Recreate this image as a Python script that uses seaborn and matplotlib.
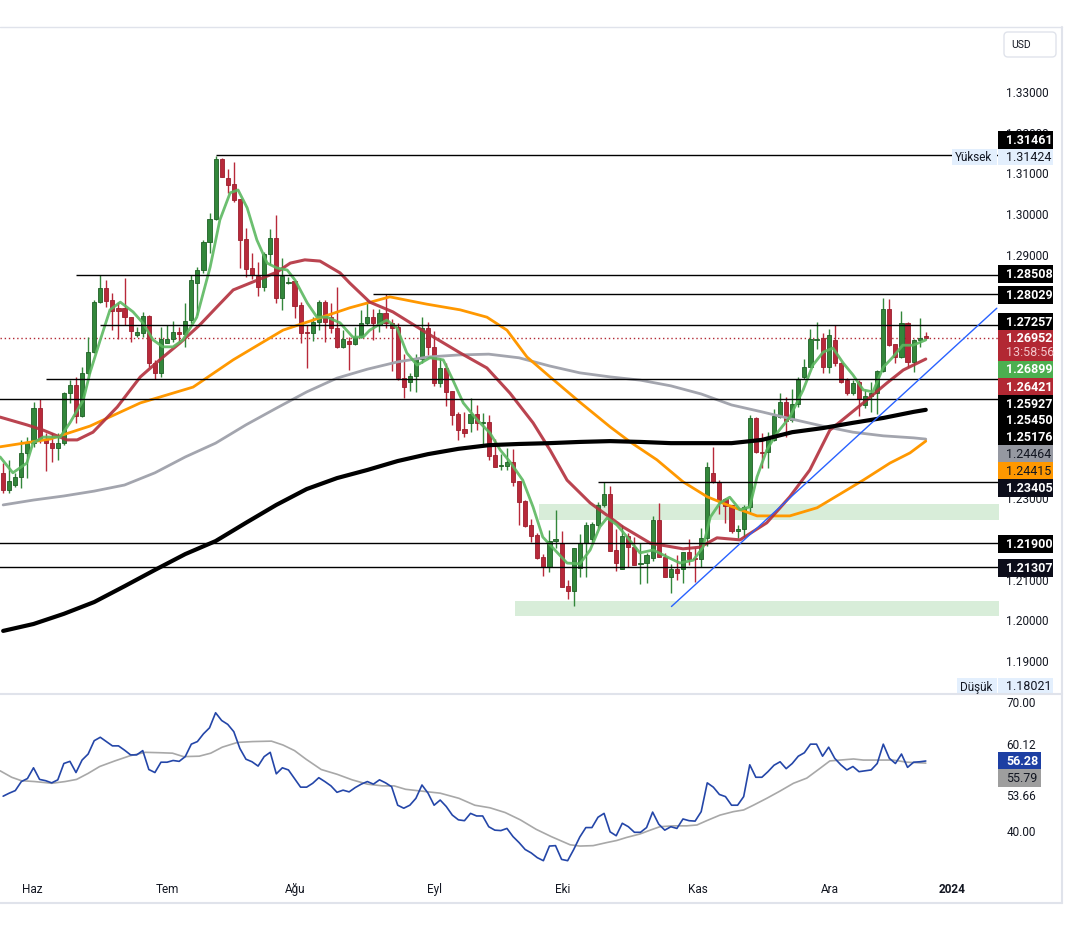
import numpy as np
import pandas as pd
import seaborn as sns
import matplotlib.pyplot as plt
from matplotlib.patches import Rectangle, FancyBboxPatch

# --- GBP/USD daily candles, bar -5 .. 147 (late May -> 21 Dec 2023) ---
opens = [1.2362, 1.2321, 1.2333, 1.2353, 1.2412, 1.2436, 1.2522, 1.2446, 1.2436, 1.2424,
         1.2436, 1.2559, 1.2579, 1.2503, 1.2609, 1.2660, 1.2783, 1.2818, 1.2788, 1.2769,
         1.2769, 1.2746, 1.2702, 1.2707, 1.2749, 1.2633, 1.2609, 1.2682, 1.2692, 1.2710,
         1.2705, 1.2739, 1.2830, 1.2862, 1.2931, 1.2988, 1.3135, 1.3088, 1.3074, 1.3037,
         1.2938, 1.2867, 1.2847, 1.2820, 1.2901, 1.2941, 1.2793, 1.2830, 1.2835, 1.2776,
         1.2710, 1.2707, 1.2734, 1.2783, 1.2746, 1.2719, 1.2673, 1.2687, 1.2680, 1.2697,
         1.2732, 1.2746, 1.2727, 1.2756, 1.2732, 1.2722, 1.2596, 1.2586, 1.2601, 1.2643,
         1.2719, 1.2673, 1.2584, 1.2621, 1.2564, 1.2508, 1.2471, 1.2485, 1.2508, 1.2485,
         1.2488, 1.2407, 1.2380, 1.2380, 1.2390, 1.2343, 1.2294, 1.2235, 1.2210, 1.2156,
         1.2131, 1.2195, 1.2190, 1.2084, 1.2072, 1.2129, 1.2190, 1.2200, 1.2235, 1.2284,
         1.2311, 1.2173, 1.2126, 1.2207, 1.2180, 1.2139, 1.2141, 1.2153, 1.2247, 1.2156,
         1.2107, 1.2126, 1.2126, 1.2168, 1.2153, 1.2151, 1.2203, 1.2362, 1.2340, 1.2299,
         1.2284, 1.2220, 1.2225, 1.2279, 1.2498, 1.2414, 1.2414, 1.2444, 1.2500, 1.2537,
         1.2493, 1.2532, 1.2599, 1.2623, 1.2690, 1.2695, 1.2623, 1.2690, 1.2633, 1.2591,
         1.2559, 1.2586, 1.2530, 1.2552, 1.2559, 1.2613, 1.2766, 1.2680, 1.2648, 1.2732,
         1.2636, 1.2690, 1.2699]
highs = [1.2387, 1.2394, 1.2362, 1.2444, 1.2451, 1.2537, 1.2545, 1.2461, 1.2461, 1.2461,
         1.2562, 1.2591, 1.2599, 1.2623, 1.2697, 1.2788, 1.2850, 1.2837, 1.2805, 1.2783,
         1.2842, 1.2746, 1.2722, 1.2759, 1.2751, 1.2641, 1.2722, 1.2727, 1.2737, 1.2722,
         1.2781, 1.2850, 1.2870, 1.2936, 1.3003, 1.31424, 1.3138, 1.3111, 1.3128, 1.3037,
         1.2965, 1.2904, 1.2882, 1.2906, 1.2963, 1.2997, 1.2892, 1.2845, 1.2837, 1.2783,
         1.2727, 1.2746, 1.2788, 1.2788, 1.2781, 1.2820, 1.2714, 1.2697, 1.2722, 1.2764,
         1.2788, 1.2766, 1.2766, 1.2803, 1.2741, 1.2732, 1.2655, 1.2609, 1.2655, 1.2746,
         1.2734, 1.2712, 1.2646, 1.2633, 1.2564, 1.2513, 1.2513, 1.2547, 1.2530, 1.2510,
         1.2505, 1.2446, 1.2409, 1.2424, 1.2421, 1.2343, 1.2296, 1.2249, 1.2215, 1.2163,
         1.2222, 1.2271, 1.2220, 1.2099, 1.2178, 1.2212, 1.2242, 1.2242, 1.2291, 1.2340,
         1.2330, 1.2225, 1.2235, 1.2215, 1.2205, 1.2190, 1.2166, 1.2257, 1.2289, 1.2166,
         1.2139, 1.2161, 1.2168, 1.2200, 1.2178, 1.2227, 1.2390, 1.2426, 1.2345, 1.2301,
         1.2284, 1.2235, 1.2284, 1.2505, 1.2500, 1.2461, 1.2463, 1.2520, 1.2559, 1.2549,
         1.2569, 1.2599, 1.2643, 1.2717, 1.2734, 1.2707, 1.2717, 1.2727, 1.2636, 1.2596,
         1.2591, 1.2591, 1.2567, 1.2586, 1.2616, 1.2793, 1.2791, 1.2680, 1.2761, 1.2734,
         1.2692, 1.2744, 1.2710]
lows = [1.2313, 1.2313, 1.2329, 1.2326, 1.2350, 1.2426, 1.2436, 1.2367, 1.2390, 1.2394,
        1.2431, 1.2535, 1.2485, 1.2500, 1.2604, 1.2658, 1.2781, 1.2771, 1.2714, 1.2692,
        1.2727, 1.2685, 1.2697, 1.2697, 1.2623, 1.2594, 1.2599, 1.2682, 1.2685, 1.2685,
        1.2673, 1.2732, 1.2751, 1.2855, 1.2904, 1.2985, 1.3091, 1.3052, 1.3029, 1.2867,
        1.2845, 1.2840, 1.2798, 1.2810, 1.2874, 1.2781, 1.2764, 1.2828, 1.2744, 1.2682,
        1.2621, 1.2687, 1.2714, 1.2685, 1.2707, 1.2670, 1.2670, 1.2616, 1.2677, 1.2695,
        1.2727, 1.2690, 1.2710, 1.2719, 1.2614, 1.2591, 1.2547, 1.2564, 1.2562, 1.2633,
        1.2653, 1.2577, 1.2574, 1.2527, 1.2481, 1.2444, 1.2451, 1.2463, 1.2468, 1.2431,
        1.2394, 1.2377, 1.2370, 1.2370, 1.2331, 1.2235, 1.2230, 1.2193, 1.2151, 1.2109,
        1.2119, 1.2178, 1.2082, 1.2052, 1.2035, 1.2107, 1.2107, 1.2193, 1.2227, 1.2279,
        1.2171, 1.2121, 1.2126, 1.2131, 1.2136, 1.2089, 1.2092, 1.2146, 1.2156, 1.2107,
        1.2067, 1.2099, 1.2092, 1.2136, 1.2094, 1.2131, 1.2183, 1.2338, 1.2262, 1.2240,
        1.2215, 1.2203, 1.2205, 1.2264, 1.2412, 1.2375, 1.2375, 1.2441, 1.2498, 1.2451,
        1.2488, 1.2525, 1.2594, 1.2623, 1.2668, 1.2609, 1.2609, 1.2626, 1.2584, 1.2554,
        1.2554, 1.2503, 1.2522, 1.2513, 1.2508, 1.2611, 1.2675, 1.2633, 1.2645, 1.2623,
        1.2611, 1.2673, 1.2693]
closes = [1.2321, 1.2343, 1.2353, 1.2412, 1.2436, 1.2522, 1.2444, 1.2436, 1.2424, 1.2436,
          1.2559, 1.2579, 1.2503, 1.2609, 1.2660, 1.2783, 1.2818, 1.2786, 1.2761, 1.2761,
          1.2746, 1.2712, 1.2710, 1.2749, 1.2633, 1.2609, 1.2692, 1.2692, 1.2710, 1.2705,
          1.2737, 1.2837, 1.2862, 1.2931, 1.2988, 1.3135, 1.3091, 1.3071, 1.3034, 1.2936,
          1.2864, 1.2850, 1.2820, 1.2901, 1.2941, 1.2793, 1.2847, 1.2832, 1.2773, 1.2707,
          1.2707, 1.2734, 1.2783, 1.2734, 1.2719, 1.2673, 1.2692, 1.2680, 1.2697, 1.2732,
          1.2746, 1.2732, 1.2756, 1.2732, 1.2719, 1.2596, 1.2574, 1.2601, 1.2643, 1.2719,
          1.2673, 1.2584, 1.2621, 1.2562, 1.2505, 1.2468, 1.2461, 1.2508, 1.2485, 1.2488,
          1.2404, 1.2377, 1.2382, 1.2390, 1.2340, 1.2291, 1.2232, 1.2207, 1.2153, 1.2131,
          1.2195, 1.2200, 1.2082, 1.2072, 1.2178, 1.2190, 1.2235, 1.2237, 1.2284, 1.2311,
          1.2171, 1.2141, 1.2207, 1.2180, 1.2136, 1.2141, 1.2161, 1.2247, 1.2156, 1.2107,
          1.2126, 1.2116, 1.2168, 1.2151, 1.2151, 1.2203, 1.2377, 1.2340, 1.2296, 1.2281,
          1.2220, 1.2225, 1.2279, 1.2498, 1.2414, 1.2412, 1.2451, 1.2503, 1.2537, 1.2490,
          1.2532, 1.2594, 1.2623, 1.2692, 1.2692, 1.2623, 1.2702, 1.2633, 1.2586, 1.2559,
          1.2584, 1.2545, 1.2552, 1.2559, 1.2613, 1.2766, 1.2677, 1.2648, 1.2732, 1.2636,
          1.2690, 1.2695, 1.26952]

# --- moving averages (bar position, price) ---
ema_fast_x = [-5.5, -3.4, -1.1, -0.1, 1.6, 4.4, 6.0, 8.2, 9.3, 11.0, 12.6, 14.3, 16.4, 18.0,
              19.7, 21.3, 23.0, 24.6, 26.9, 29.1, 30.7, 32.4, 33.7, 35.2, 36.8, 38.5, 40.1,
              41.8, 43.1, 45.1, 46.7, 48.4, 50.5, 52.6, 54.3, 55.4, 58.2, 59.9, 61.5, 63.2,
              65.3, 67.5, 69.1, 70.8, 73.1, 75.2, 76.9, 78.5, 80.6, 82.3, 83.9, 87.9, 90.0,
              91.7, 93.3, 94.5, 96.1, 97.8, 99.9, 102.1, 104.4, 106.5, 108.7, 110.3, 111.5,
              113.1, 114.7, 116.4, 118.0, 119.2, 120.8, 122.5, 124.6, 126.8, 128.4, 130.1,
              131.7, 133.4, 135.0, 136.7, 138.3, 140.0, 141.6, 143.2, 144.9, 147.0]
ema_fast = [1.2402, 1.2363, 1.2387, 1.2436, 1.2451, 1.2451, 1.2486, 1.2542, 1.2609, 1.2690,
            1.2764, 1.2783, 1.2759, 1.2732, 1.2690, 1.2673, 1.2673, 1.2690, 1.2746, 1.2869,
            1.2985, 1.3052, 1.3059, 1.3015, 1.2936, 1.2879, 1.2867, 1.2862, 1.2837, 1.2781,
            1.2746, 1.2746, 1.2732, 1.2697, 1.2697, 1.2714, 1.2739, 1.2719, 1.2658, 1.2628,
            1.2646, 1.2641, 1.2591, 1.2535, 1.2493, 1.2461, 1.2419, 1.2390, 1.2345, 1.2279,
            1.2205, 1.2141, 1.2139, 1.2173, 1.2230, 1.2252, 1.2235, 1.2205, 1.2166, 1.2173,
            1.2156, 1.2141, 1.2148, 1.2180, 1.2254, 1.2289, 1.2303, 1.2272, 1.2279, 1.2353,
            1.2419, 1.2461, 1.2500, 1.2567, 1.2628, 1.2660, 1.2670, 1.2633, 1.2604, 1.2567,
            1.2562, 1.2623, 1.2648, 1.2677, 1.2677, 1.2690]

red_x = [-5.5, -1.1, 1.6, 5.5, 7.2, 9.8, 13.8, 17.6, 20.8, 24.1, 27.4, 30.2, 32.9, 36.2,
         40.1, 42.3, 44.7, 47.2, 50.5, 52.1, 55.4, 59.2, 64.8, 70.3, 74.7, 78.5, 82.3, 85.1,
         87.9, 91.7, 97.1, 101.6, 107.0, 109.8, 112.6, 116.4, 120.8, 124.6, 127.9, 131.2,
         136.7, 140.6, 143.3, 147.0]
ma_red = [1.2500, 1.2481, 1.2468, 1.2444, 1.2444, 1.2463, 1.2525, 1.2599, 1.2641, 1.2682,
          1.2727, 1.2771, 1.2813, 1.2833, 1.2857, 1.2879, 1.2887, 1.2884, 1.2855, 1.2830,
          1.2783, 1.2759, 1.2707, 1.2658, 1.2621, 1.2559, 1.2486, 1.2419, 1.2345, 1.2289,
          1.2230, 1.2190, 1.2176, 1.2180, 1.2203, 1.2198, 1.2240, 1.2304, 1.2370, 1.2468,
          1.2535, 1.2584, 1.2616, 1.2643]

orange_x = [-5.5, 2.7, 9.3, 17.6, 26.3, 32.9, 41.1, 52.1, 58.7, 64.8, 70.3, 74.7, 78.0, 81.3,
            85.1, 90.0, 95.0, 98.3, 102.7, 107.0, 111.0, 114.3, 119.2, 124.6, 129.1, 136.7,
            141.1, 144.4, 147.0]
ma_orange = [1.2427, 1.2446, 1.2478, 1.2535, 1.2574, 1.2641, 1.2714, 1.2769, 1.2796, 1.2778,
             1.2764, 1.2746, 1.2714, 1.2648, 1.2599, 1.2537, 1.2476, 1.2439, 1.2395, 1.2341,
             1.2304, 1.2284, 1.2257, 1.2257, 1.2277, 1.2345, 1.2387, 1.2412, 1.2441]

ma_x = [-5, 0, 5, 10, 15, 20, 25, 30, 35, 40, 45, 50, 55, 60, 65, 70, 75, 80, 85, 90,
        95, 100, 105, 110, 115, 120, 125, 130, 135, 140, 145, 147]
ma_grey = [1.2284, 1.2296, 1.2306, 1.2318, 1.2333, 1.2363, 1.2402, 1.2436, 1.2481, 1.2522,
           1.2562, 1.2596, 1.2618, 1.2636, 1.2648, 1.2653, 1.2655, 1.2646, 1.2626, 1.2609,
           1.2599, 1.2591, 1.2577, 1.2557, 1.2530, 1.2513, 1.2495, 1.2478, 1.2463, 1.2454,
           1.2449, 1.2446]
ma_black = [1.1974, 1.1991, 1.2016, 1.2045, 1.2084, 1.2124, 1.2163, 1.2195, 1.2240, 1.2284,
            1.2323, 1.2350, 1.2370, 1.2392, 1.2409, 1.2422, 1.2431, 1.2434, 1.2436, 1.2439,
            1.2441, 1.2439, 1.2436, 1.2436, 1.2436, 1.2444, 1.2463, 1.2473, 1.2486, 1.2498,
            1.2513, 1.2518]

# --- drawings: horizontal levels, zones, trend line ---
levels = [1.31461, 1.28508, 1.28029, 1.27257, 1.25927, 1.25450, 1.23405, 1.21900, 1.21307]
level_start = [30, 7, 56, 11, 2, -6, 93, -6, -6]
zones = [(83.3, 1.2247, 1.2286), (79.3, 1.2011, 1.2048)]
trend_x = [105.1, 158.7]
trend_y = [1.2034, 1.2768]
last_price = 1.26952

# --- RSI (bar -5 .. 147) and its moving average ---
rsi = [48.1, 48.8, 49.4, 51.5, 52.2, 54.7, 52.0, 51.7, 51.2, 51.9,
       55.7, 56.2, 53.6, 56.5, 57.9, 61.0, 61.8, 60.8, 59.8, 59.8,
       58.8, 57.7, 57.7, 58.7, 54.3, 53.6, 56.0, 56.0, 56.4, 56.2,
       57.3, 60.2, 60.8, 62.6, 64.0, 67.5, 65.7, 64.8, 63.1, 59.2,
       56.7, 56.1, 55.1, 57.3, 58.3, 53.3, 54.7, 54.2, 52.2, 50.2,
       50.2, 51.1, 52.4, 51.5, 50.5, 49.0, 49.5, 49.1, 50.1, 50.9,
       51.5, 50.9, 51.9, 51.2, 50.3, 46.0, 45.3, 46.0, 47.6, 50.7,
       48.8, 46.0, 47.2, 45.7, 43.7, 42.6, 42.4, 44.1, 43.5, 43.5,
       41.0, 40.2, 40.1, 40.6, 38.7, 37.3, 35.7, 34.9, 33.8, 33.1,
       36.5, 36.6, 33.4, 33.1, 35.7, 38.6, 40.8, 40.8, 43.2, 44.1,
       39.8, 38.9, 41.8, 41.0, 39.7, 39.7, 40.8, 44.4, 41.6, 40.2,
       41.0, 40.6, 42.8, 42.4, 42.3, 44.5, 51.2, 50.2, 48.5, 48.0,
       46.0, 46.0, 48.0, 55.4, 52.5, 52.5, 53.8, 55.3, 56.1, 54.5,
       55.7, 57.4, 58.2, 60.2, 60.2, 57.4, 59.5, 56.9, 55.4, 54.2,
       55.0, 53.8, 54.0, 54.2, 55.7, 60.2, 56.9, 55.7, 57.9, 54.8,
       56.0, 56.1, 56.28]
rsi_ma_x = [-5.5, -3.6, -2.0, 0.2, 3.0, 5.2, 7.1, 9.0, 10.9, 13.4, 15.9, 18.4, 21.0, 22.9,
            24.7, 27.3, 29.2, 31.1, 33.6, 36.1, 39.2, 41.1, 43.0, 44.9, 47.4, 50.0, 52.5,
            55.0, 57.5, 59.4, 61.3, 63.8, 67.0, 70.1, 72.7, 75.2, 77.7, 80.2, 82.8, 85.3,
            88.4, 90.0, 92.2, 94.4, 96.1, 97.7, 99.9, 101.6, 103.2, 105.4, 107.6, 109.3,
            110.9, 113.1, 115.3, 117.0, 118.6, 120.8, 123.0, 125.2, 127.4, 129.6, 131.2,
            132.9, 135.1, 136.7, 139.5, 141.6, 143.9, 147.0]
rsi_ma = [54.0, 52.5, 51.7, 51.5, 51.1, 51.5, 52.0, 53.4, 55.0, 56.3, 57.5, 58.3, 58.2, 58.1,
          57.3, 57.4, 58.1, 59.5, 60.6, 60.8, 60.9, 60.0, 58.7, 56.7, 54.3, 53.2, 51.9,
          50.9, 50.5, 50.5, 49.7, 49.3, 48.8, 47.6, 46.0, 45.4, 44.3, 42.6, 40.4, 38.7,
          36.8, 36.5, 36.6, 37.3, 37.8, 38.5, 39.3, 40.2, 41.0, 41.2, 41.2, 41.4,
          42.4, 43.7, 44.5, 44.9, 46.0, 47.6, 49.3, 51.1, 52.3, 54.6, 56.3,
          56.5, 56.75, 56.5, 56.5, 56.5, 56.0, 55.79]

month_pos = [-0.25, 22, 43.1, 66, 87.2, 109.5, 131.2, 151.3]
month_names = ['Haz', 'Tem', 'Ağu', 'Eyl', 'Eki', 'Kas', 'Ara', '2024']
# only the scale values not hidden by the price tags
price_ticks = [1.19, 1.20, 1.21, 1.23, 1.29, 1.30, 1.31, 1.32, 1.33]

UP, UP_EDGE = '#33873b', '#1f5f25'
DOWN, DOWN_EDGE = '#b8293a', '#9a1f2d'
TXT = '#131722'

df = pd.DataFrame({'open': opens, 'high': highs, 'low': lows, 'close': closes})
df['bar'] = np.arange(len(df)) - 5
df['up'] = df['close'] >= df['open']

sns.set_theme(style="white")
plt.rcParams['font.family'] = ['Roboto', 'DejaVu Sans']

W, H = 1072, 939
fig = plt.figure(figsize=(W / 100, H / 100), dpi=100)
ax = fig.add_axes([0, (H - 693) / H, 998 / W, (693 - 27) / H])
ax_rsi = fig.add_axes([0, (H - 875) / H, 998 / W, (875 - 695) / H], sharex=ax)

x_right = 158.9
ax.set_xlim(-5.52, x_right)
ax.set_ylim(1.18212, 1.34600)
ax_rsi.set_ylim(29.77, 71.63)

# zones and levels
for start, lo, hi in zones:
    ax.fill_between([start, x_right + 2], lo, hi, color='#d8edd9', lw=0, zorder=1)
ax.axhline(last_price, color='#b22833', lw=1, ls=(0, (1, 2)), zorder=2)
ax.hlines(levels, level_start, x_right + 2, color='black', lw=1, zorder=5)

# candles
colors = np.where(df['up'], UP, DOWN)
edges = np.where(df['up'], UP_EDGE, DOWN_EDGE)
ax.vlines(df['bar'], df['low'], df['high'], colors=colors, lw=1, zorder=3)
body = (df['close'] - df['open']).abs().clip(lower=0.00012)
ax.bar(df['bar'], body, bottom=df[['open', 'close']].min(axis=1), width=0.68,
       color=colors, edgecolor=edges, linewidth=0.6, zorder=3)

# moving averages
sns.lineplot(x=ma_x, y=ma_grey, ax=ax, color='#a3a5ae', lw=2, zorder=4)
sns.lineplot(x=orange_x, y=ma_orange, ax=ax, color='#ff9800', lw=2, zorder=4)
sns.lineplot(x=red_x, y=ma_red, ax=ax, color='#b3303d', lw=2.2, alpha=0.9, zorder=4)
sns.lineplot(x=ema_fast_x, y=ema_fast, ax=ax, color='#5cb860', lw=2, alpha=0.9, zorder=4)
sns.lineplot(x=ma_x, y=ma_black, ax=ax, color='black', lw=3, zorder=4)
ax.plot(trend_x, trend_y, color='#2962ff', lw=1, zorder=5)

# RSI pane
sns.lineplot(x=rsi_ma_x, y=rsi_ma, ax=ax_rsi, color='#a8a8a8', lw=1.2)
sns.lineplot(x=np.arange(len(rsi)) - 5, y=rsi, ax=ax_rsi, color='#2446a8', lw=1.2)

for a in (ax, ax_rsi):
    for s in a.spines.values():
        s.set_visible(False)
    a.set_xlabel('')
    a.set_ylabel('')
    a.yaxis.tick_right()

ax.set_yticks(price_ticks)
ax.set_yticklabels([f'{t:.5f}' for t in price_ticks])
ax.tick_params(axis='y', length=0, pad=6, labelsize=8.5, labelcolor=TXT)
ax.tick_params(axis='x', bottom=False, labelbottom=False)

ax_rsi.set_yticks([70, 60.12, 40])
ax_rsi.set_yticklabels(['70.00', '60.12', '40.00'])
ax_rsi.tick_params(axis='y', length=0, pad=6, labelsize=8.5, labelcolor=TXT)
ax_rsi.set_xticks(month_pos)
ax_rsi.set_xticklabels(month_names)
ax_rsi.tick_params(axis='x', length=0, pad=6, labelsize=8.5, labelcolor=TXT, bottom=True)
ax_rsi.get_xticklabels()[-1].set_fontweight('bold')

# --- overlay in pixel coordinates for the price-scale tags ---
ov = fig.add_axes([0, 0, 1, 1], zorder=10)
ov.set_xlim(0, W)
ov.set_ylim(H, 0)
ov.axis('off')

border = '#e0e3eb'
ov.plot([1062, 1062], [27, 903], color=border, lw=1.5)
ov.plot([0, 1062], [903, 903], color=border, lw=1.5)
ov.plot([0, 1062], [694, 694], color=border, lw=1.5)
ov.plot([0, 1062], [27, 27], color=border, lw=1)

ov.add_patch(FancyBboxPatch((1004, 32), 52, 25, boxstyle='round,pad=0,rounding_size=4',
                            fc='white', ec=border, lw=1))
ov.text(1011, 45, 'USD', fontsize=7.5, color=TXT, va='center')


def tag(y, text, face, color, bold=True, w=55, h=17.5):
    ov.add_patch(Rectangle((998, y - h / 2), w, h, fc=face, ec='none'))
    ov.text(1006, y + 0.5, text, fontsize=9, color=color, va='center',
            fontweight='bold' if bold else 'normal')


LIGHT = '#e3effd'
tag_specs = [
    (140, '1.31461', 'black', 'white', True),
    (274, '1.28508', 'black', 'white', True),
    (295, '1.28029', 'black', 'white', True),
    (321.5, '1.27257', 'black', 'white', True),
    (369, '1.26899', '#4caf50', 'white', True),
    (387, '1.26421', '#b22833', 'white', True),
    (404, '1.25927', 'black', 'white', True),
    (420.5, '1.25450', 'black', 'white', True),
    (437, '1.25176', 'black', 'white', True),
    (454, '1.24464', '#9598a1', TXT, False),
    (471, '1.24415', '#ff9800', TXT, False),
    (488, '1.23405', '#0c0d1a', 'white', True),
    (544, '1.21900', 'black', 'white', True),
    (568, '1.21307', '#0c0d1a', 'white', True),
]
for y, text, face, color, bold in tag_specs:
    tag(y, text, face, color, bold)

# current price with countdown
ov.add_patch(Rectangle((998, 330), 55, 31, fc='#b22833', ec='none'))
ov.text(1006, 338.5, '1.26952', fontsize=9, color='white', fontweight='bold', va='center')
ov.text(1006, 352.5, '13:58:56', fontsize=9, color='#f3c6cb', va='center')

# high / low markers
ov.add_patch(Rectangle((952, 149), 45, 16, fc=LIGHT, ec='none'))
ov.text(955, 157.5, 'Yüksek', fontsize=8.5, color=TXT, va='center')
tag(157, '1.31424', LIGHT, TXT, False, h=16)
ov.add_patch(Rectangle((957, 678), 40, 17, fc=LIGHT, ec='none'))
ov.text(960, 687, 'Düşük', fontsize=8.5, color=TXT, va='center')
tag(686.5, '1.18021', LIGHT, TXT, False, h=17)

# RSI tags
tag(761, '56.28', '#1d3fa3', 'white', True, w=43)
tag(778, '55.79', '#9e9e9e', TXT, False, w=43)
ov.text(1006, 796, '53.66', fontsize=8.5, color=TXT, va='center')

fig.savefig('out.png', dpi=100)
print("saved out.png")
